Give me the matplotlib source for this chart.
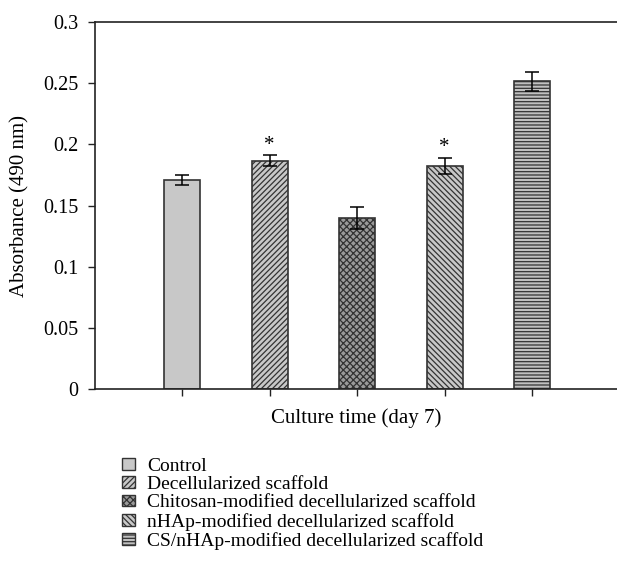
import matplotlib
matplotlib.use("Agg")
import matplotlib.pyplot as plt
from matplotlib.patches import Patch

plt.rcParams['font.family'] = ['Liberation Serif', 'DejaVu Serif']
plt.rcParams['hatch.linewidth'] = 0.9

categories = ["Control", "Decellularized scaffold",
              "Chitosan-modified decellularized scaffold",
              "nHAp-modified decellularized scaffold",
              "CS/nHAp-modified decellularized scaffold"]
values = [0.171, 0.1865, 0.140, 0.1825, 0.2515]
errors = [0.004, 0.0045, 0.009, 0.0065, 0.0075]
significant = [False, True, False, True, False]
yticks = [0, 0.05, 0.1, 0.15, 0.2, 0.25, 0.3]
ytick_labels = ["0", "0.05", "0.1", "0.15", "0.2", "0.25", "0.3"]

hatches = [None, '//////', 'xxxxx', '\\\\\\\\\\\\', '-----']
facecolors = ['#c8c8c8', '#c8c8c8', '#9a9a9a', '#c8c8c8', '#c0c0c0']

fig = plt.figure(figsize=(6.17, 5.8), dpi=100)
ax = fig.add_axes([0.154, 0.329, 0.846, 0.633])

x = list(range(len(values)))
bars = ax.bar(x, values, width=0.41, color=facecolors, edgecolor='#333333',
              linewidth=1.2, zorder=2)
for b, h in zip(bars, hatches):
    if h:
        b.set_hatch(h)
ax.errorbar(x, values, yerr=errors, fmt='none', ecolor='black', elinewidth=1.1,
            capsize=5, capthick=1.1, zorder=3)
for xi, v, e, s in zip(x, values, errors, significant):
    if s:
        ax.text(xi, v + e + 0.0005, '*', ha='center', va='bottom', fontsize=15)

ax.set_xlim(-0.995, 4.97)
ax.set_ylim(0, 0.3)
ax.set_yticks(yticks)
ax.set_yticklabels(ytick_labels, fontsize=14.5)
ax.set_xticks(x)
ax.set_xticklabels([])
ax.tick_params(axis='both', direction='out', length=5, width=1, color='#222222')
ax.tick_params(axis='y', pad=7)
ax.spines['right'].set_visible(False)
for sp in ['left', 'top', 'bottom']:
    ax.spines[sp].set_linewidth(1.2)
    ax.spines[sp].set_color('#222222')
ax.set_ylabel('Absorbance (490 nm)', fontsize=15, labelpad=10)
ax.set_xlabel('Culture time (day 7)', fontsize=15, labelpad=5)

handles = [Patch(facecolor=fc, edgecolor='#333333', hatch=h, linewidth=1.0)
           for fc, h in zip(facecolors, hatches)]
fig.legend(handles, categories, loc='upper left', bbox_to_anchor=(0.197, 0.211),
           frameon=False, fontsize=14, handlelength=0.7, handleheight=0.55,
           labelspacing=0.07, handletextpad=0.6, borderaxespad=0, borderpad=0)

fig.savefig('out.png', dpi=100)
